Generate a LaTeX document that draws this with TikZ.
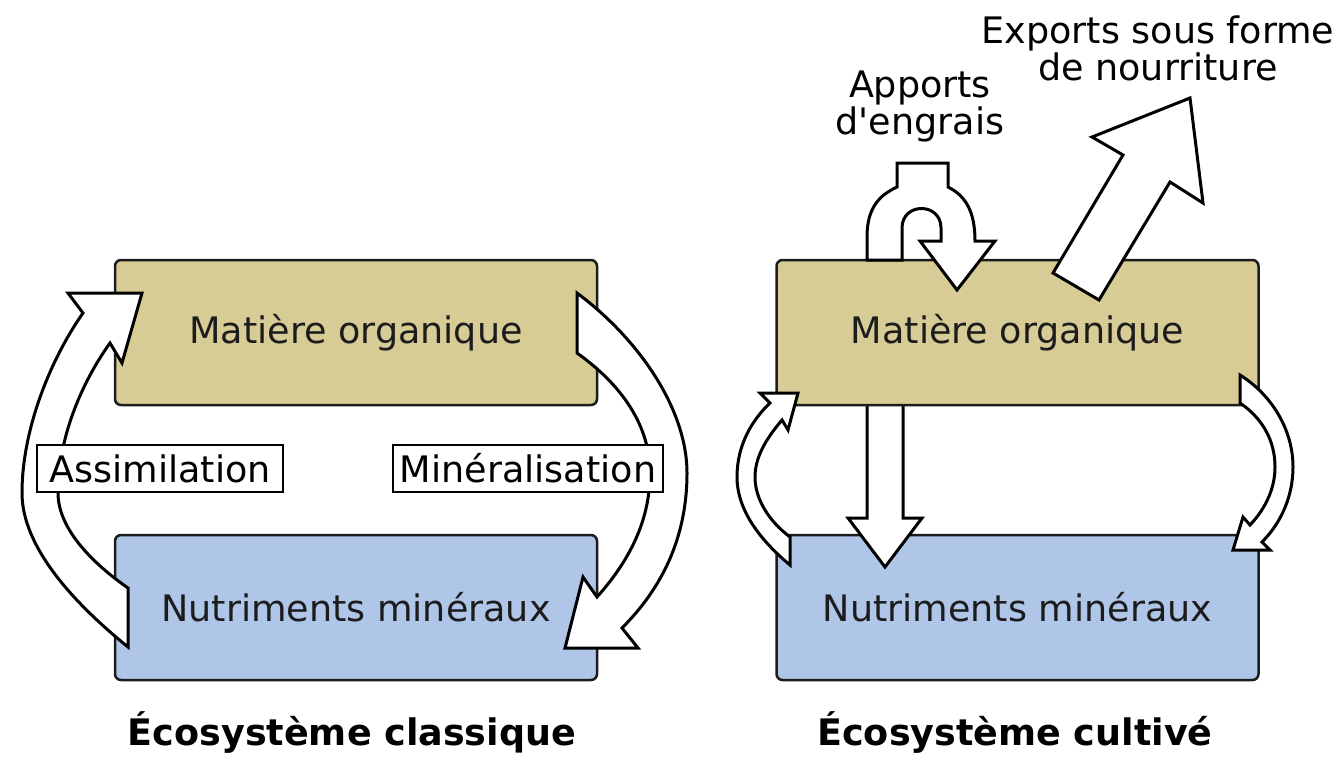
\documentclass[tikz,border=0pt]{standalone}
\usepackage{fontspec}
\setmainfont{DejaVu Sans}
\usetikzlibrary{positioning}
\definecolor{organic}{HTML}{D7CC96}
\definecolor{mineral}{HTML}{AFC6E9}
\definecolor{ink}{HTML}{1C1C1C}

\begin{document}
\begin{tikzpicture}[x=1pt, y=-1pt,
    pool/.style={rectangle, draw=ink, line width=2.5pt, rounded corners=6pt, minimum width=482pt, minimum height=145pt, text=ink, font=\fontsize{36.5}{37}\selectfont},
    flux/.style={draw=black, fill=white, line width=3pt, line join=miter},
    tag/.style={rectangle, draw=black, fill=white, line width=2.5pt, inner sep=0pt, minimum height=47pt, font=\fontsize{36.5}{37}\selectfont},
    title/.style={anchor=base, font=\fontsize{36.5}{37}\selectfont\bfseries},
    caption/.style={align=center, font=\fontsize{36.5}{37}\selectfont}
]
\useasboundingbox (0,0) rectangle (1341,756);

% Nutrient pools
\node[pool, fill=mineral] (nutA) at (356,607.5) {Nutriments minéraux};
\node[pool, fill=mineral] (nutB) at (1017.5,607.5) {Nutriments minéraux};

% Leaching (stem goes under the organic pool)
\draw[flux] (867,260) -- (867,518) -- (848,518) -- (885,567) -- (922,518) -- (903,518) -- (903,260);

% Organic pools
\node[pool, fill=organic] (orgA) at (356,332.5) {Matière organique};
\node[pool, fill=organic] (orgB) at (1017.5,332.5) {Matière organique};

% Classic cycle
\draw[flux] (128,647) .. controls (70,600) and (22,545) .. (22,493)
    .. controls (22,430) and (50,360) .. (83,313) -- (68,293) -- (142,293) -- (122,363) -- (110,343)
    .. controls (80,385) and (58,440) .. (58,493) .. controls (58,530) and (95,565) .. (128,588) -- cycle;
\draw[flux] (577,293) .. controls (640,340) and (687,410) .. (687,473)
    .. controls (687,540) and (660,590) .. (622,628) -- (638,648) -- (565,648) -- (583,577) -- (597,597)
    .. controls (630,560) and (650,520) .. (650,473) .. controls (650,420) and (615,380) .. (577,353) -- cycle;

% Cultivated cycle
\draw[flux] (790,565) .. controls (760,540) and (737,510) .. (737,477)
    .. controls (737,445) and (752,420) .. (770,403) -- (760,393) -- (798,393) -- (788,430) -- (782,420)
    .. controls (765,440) and (755,458) .. (755,477) .. controls (755,500) and (770,522) .. (790,537) -- cycle;
\draw[flux] (1240,375) .. controls (1272,395) and (1293,430) .. (1293,467)
    .. controls (1293,495) and (1282,522) .. (1262,542) -- (1270,550) -- (1233,550) -- (1243,517) -- (1250,525)
    .. controls (1266,508) and (1275,488) .. (1275,467) .. controls (1275,440) and (1262,418) .. (1240,403) -- cycle;

% Fertiliser inputs and food exports
\draw[flux] (867,260) -- (867,237) .. controls (867,207) and (880,195) .. (897,187) -- (897,163) -- (948,163) -- (948,187)
    .. controls (966,196) and (975,212) .. (975,241) -- (995,241) -- (957,290) -- (920,241) -- (941,241) -- (941,228)
    .. controls (941,202) and (902,202) .. (902,228) -- (902,260) -- cycle;
\draw[flux] (1053,273) -- (1123,155) -- (1092,137) -- (1190,98) -- (1203,203) -- (1170,182) -- (1099,300) -- cycle;

% Labels
\node[tag, minimum width=246pt] (assim) at (160,468.5) {Assimilation};
\node[tag, minimum width=270pt] (miner) at (528,468.5) {Minéralisation};
\node[caption] (inputs) at (920,106) {Apports\\d\textquotesingle engrais};
\node[caption] (exports) at (1158,48) {Exports sous forme\\de nourriture};
\node[title] (classic) at (352,745) {Écosystème classique};
\node[title] (farmed) at (1015,745) {Écosystème cultivé};

\end{tikzpicture}
\end{document}
